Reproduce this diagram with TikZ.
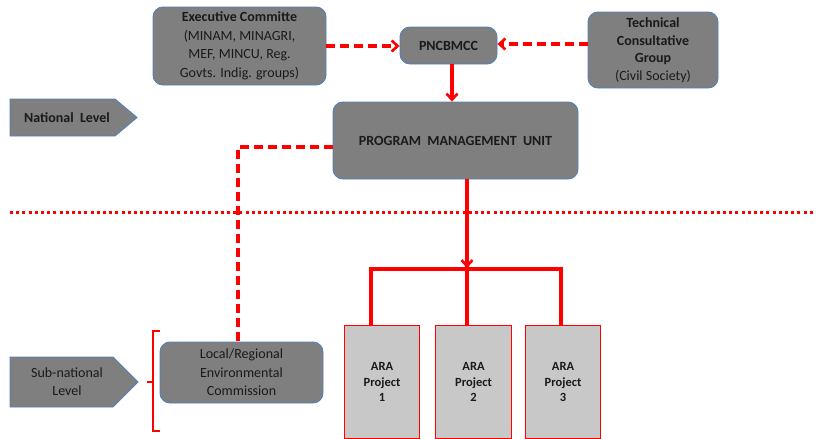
\documentclass[tikz,border=0pt]{standalone}
\usepackage{fontspec}
\setmainfont{Carlito}
\usetikzlibrary{arrows.meta}
\definecolor{boxgray}{HTML}{7F7F7F}
\definecolor{boxedge}{HTML}{4F81BD}
\definecolor{aragray}{HTML}{C8C8C8}
\definecolor{txt}{HTML}{1A1A1A}
\tikzset{
  gbox/.style={draw=boxedge, line width=0.9pt, fill=boxgray, rounded corners=10pt, align=center, inner sep=0pt, text=txt, font=\fontsize{14}{18.5}\selectfont},
  arabox/.style={draw=red, line width=1.1pt, fill=aragray, align=center, inner sep=0pt, text=txt, font=\fontsize{12.5}{15.5}\selectfont\bfseries},
  tip/.style={-{Straight Barb[length=6pt,width=11pt,line width=2.6pt]}},
  redarrow/.style={draw=red, line width=3.2pt, tip},
  redline/.style={draw=red, line width=3.2pt},
  reddash/.style={draw=red, line width=3.2pt, dash pattern=on 9pt off 5pt},
  levelshape/.style={draw=boxedge, line width=0.9pt, fill=boxgray},
}
\begin{document}
\begin{tikzpicture}[x=1pt,y=-1pt]
\useasboundingbox (0,0) rectangle (817,439);
% boxes
\node[gbox, minimum width=173pt, minimum height=78pt] (exec) at (239.5,46) {\textbf{Executive Committe}\\(MINAM, MINAGRI,\\MEF, MINCU, Reg.\\Govts. Indig. groups)};
\node[gbox, minimum width=97pt, minimum height=37pt, font=\fontsize{14}{18}\selectfont\bfseries] (pnc) at (448.5,45.5) {PNCBMCC};
\node[gbox, minimum width=130pt, minimum height=76pt, font=\fontsize{14}{17.5}\selectfont] (tech) at (653,50) {\textbf{Technical}\\\textbf{Consultative}\\\textbf{Group}\\(Civil Society)};
\node[gbox, minimum width=245pt, minimum height=77pt, font=\fontsize{14}{18}\selectfont\bfseries] (pmu) at (455.5,140.5) {PROGRAM\ \ MANAGEMENT\ \ UNIT};
\node[gbox, minimum width=163pt, minimum height=61pt] (local) at (241.5,372.5) {Local/Regional\\Environmental\\Commission};
% level shapes
\draw[levelshape] (10,99) -- (115,99) -- (137,117.5) -- (115,136) -- (10,136) -- cycle;
\node[text=txt, font=\fontsize{14}{18}\selectfont\bfseries, anchor=center] (natl) at (67,117.5) {National\ \ Level};
\draw[levelshape] (10,357) -- (113,357) -- (138,382) -- (113,407) -- (10,407) -- cycle;
\node[text=txt, font=\fontsize{14}{18}\selectfont, align=center, anchor=center] (subn) at (67,382) {Sub-national\\Level};
% ARA boxes
\node[arabox, minimum width=75pt, minimum height=113pt, anchor=north west] (ara1) at (344,325) {ARA\\Project\\1};
\node[arabox, minimum width=76pt, minimum height=113pt, anchor=north west] (ara2) at (435,325) {ARA\\Project\\2};
\node[arabox, minimum width=75pt, minimum height=113pt, anchor=north west] (ara3) at (525,325) {ARA\\Project\\3};
% connectors
\draw[reddash, tip] (exec.east |- 0,46) -- (pnc.west |- 0,46);
\draw[reddash, tip] (tech.west |- 0,44) -- (pnc.east |- 0,44);
\draw[redarrow] (pnc.south -| 452,0) -- (pmu.north -| 452,0);
\draw[redarrow] (pmu.south -| 467,0) -- (467,268);
\draw[redline] (ara1.north -| 371,0) -- (371,269) -- (561,269) -- (ara3.north -| 561,0);
\draw[redline] (467,266) -- (ara2.north -| 467,0);
\draw[reddash] (pmu.west |- 0,147) -- (238,147) -- (local.north -| 238,0);
% dotted separator
\draw[red, line width=3pt, dash pattern=on 3pt off 3.2pt] (10,212) -- (815,212);
% bracket
\draw[red, line width=1.3pt] (160,331) -- (153,331) -- (153,431) -- (160,431);
\draw[red, line width=1.3pt] (147,382) -- (153,382);
\end{tikzpicture}
\end{document}
